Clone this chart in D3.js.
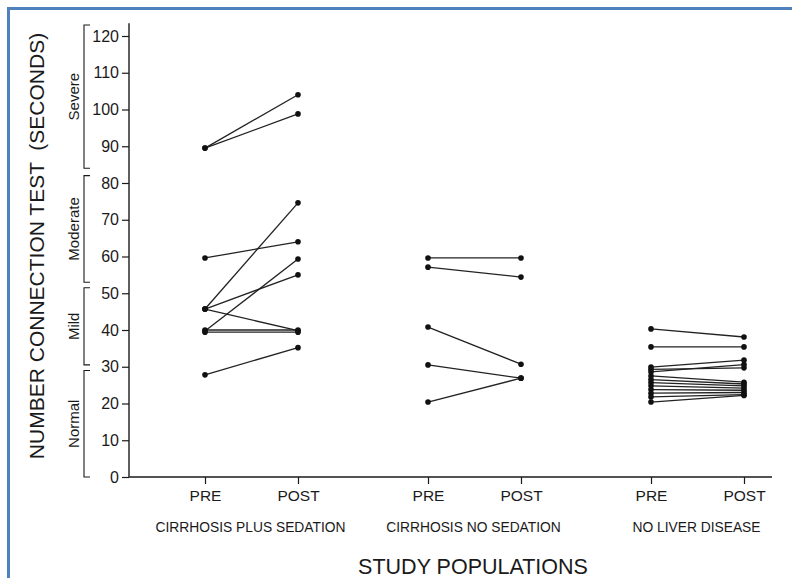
<!DOCTYPE html>
<html>
<head>
<meta charset="utf-8">
<script src="https://cdn.jsdelivr.net/npm/d3@7"></script>
<style>
  html, body { margin: 0; padding: 0; background: #fff; }
  svg { display: block; font-family: "Liberation Sans", Arial, Helvetica, sans-serif; }
</style>
</head>
<body>
<svg id="chart"></svg>
<script>
// Number connection test, pre vs post, three study populations
const groups = ["CIRRHOSIS PLUS SEDATION", "CIRRHOSIS NO SEDATION", "NO LIVER DISEASE"];
const phases = ["PRE", "POST"];
const yTicks = [0, 10, 20, 30, 40, 50, 60, 70, 80, 90, 100, 110, 120];

// [pre, post] seconds per subject
const sedationPairs = [
  [89.5, 104], [89.5, 98.8], [59.6, 64], [45.7, 74.6], [39.7, 59.3],
  [45.7, 55], [45.7, 39.8], [40, 40], [39.4, 39.4], [27.8, 35.2]
];
const noSedationPairs = [
  [59.6, 59.6], [57.1, 54.4], [40.8, 30.7], [30.5, 26.9], [20.4, 26.9]
];
const noLiverPairs = [
  [40.3, 38.1], [35.4, 35.4], [29.9, 31.8], [29.3, 29.7], [28.6, 30.6],
  [27.5, 25.8], [26.5, 25.3], [25.7, 24.8], [24.8, 24.2], [23.8, 23.6],
  [22.8, 23.0], [21.8, 22.4], [20.4, 22.2]
];

// severity brackets along the y axis
const severity = ["Normal", "Mild", "Moderate", "Severe"];
const severityFrom = [0, 30.5, 53, 84];
const severityTo = [29, 51.5, 82, 123];

(() => {
  const width = 792, height = 578;
  const BLUE = "#4f81bd";
  const INK = "#1a1a1a";

  const svg = d3.select("#chart").attr("width", width).attr("height", height);

  // frame (left + top only)
  svg.append("line").attr("x1", 8).attr("x2", width).attr("y1", 8.5).attr("y2", 8.5)
    .attr("stroke", BLUE).attr("stroke-width", 3);
  svg.append("line").attr("x1", 8.5).attr("x2", 8.5).attr("y1", 7).attr("y2", height)
    .attr("stroke", BLUE).attr("stroke-width", 3);

  const y = d3.scaleLinear().domain([0, 120]).range([477, 36]);
  const xGroup = d3.scaleBand().domain(groups).range([140, 809]).padding(0);
  const xPhase = d3.scalePoint().domain(phases).range([0, xGroup.bandwidth()]).padding(0.699);
  const xPos = (g, p) => xGroup(g) + xPhase(p);

  const AXIS_X = 129;

  // y axis
  const yAxis = d3.axisLeft(y).tickValues(yTicks).tickSize(7).tickPadding(3).tickSizeOuter(0);
  svg.append("g")
    .attr("transform", `translate(${AXIS_X},0)`)
    .call(yAxis)
    .call(s => s.select(".domain").remove())
    .call(s => s.selectAll("line").attr("stroke", INK).attr("stroke-width", 1.2))
    .call(s => s.selectAll("text").attr("font-size", 16).attr("fill", INK)
      .attr("font-family", "'Liberation Sans', Arial, sans-serif"));
  svg.append("line")
    .attr("x1", AXIS_X).attr("x2", AXIS_X)
    .attr("y1", y(0)).attr("y2", y(123.5))
    .attr("stroke", INK).attr("stroke-width", 1.4);

  // x axis baseline
  svg.append("line")
    .attr("x1", AXIS_X).attr("x2", 772)
    .attr("y1", y(0)).attr("y2", y(0))
    .attr("stroke", INK).attr("stroke-width", 1.4);

  // PRE / POST ticks per group
  groups.forEach(g => {
    svg.append("g")
      .attr("transform", `translate(${xGroup(g)},${y(0)})`)
      .call(d3.axisBottom(xPhase).tickSize(7).tickPadding(6).tickSizeOuter(0))
      .call(s => s.select(".domain").remove())
      .call(s => s.selectAll("line").attr("stroke", INK).attr("stroke-width", 1.2))
      .call(s => s.selectAll("text").attr("font-size", 15.5).attr("fill", INK)
        .attr("font-family", "'Liberation Sans', Arial, sans-serif"));

    svg.append("text")
      .attr("x", xGroup(g) + xGroup.bandwidth() / 2 - 1)
      .attr("y", 532)
      .attr("text-anchor", "middle")
      .attr("font-size", 13.8)
      .attr("fill", INK)
      .text(g);
  });

  // axis titles
  svg.append("text")
    .attr("x", 473).attr("y", 574)
    .attr("text-anchor", "middle")
    .attr("font-size", 21.5)
    .attr("fill", INK)
    .text("STUDY POPULATIONS");

  svg.append("text")
    .attr("transform", `translate(44,246) rotate(-90)`)
    .attr("text-anchor", "middle")
    .attr("font-size", 21)
    .attr("fill", INK)
    .style("white-space", "pre")
    .text("NUMBER CONNECTION TEST  (SECONDS)");

  // severity brackets
  const BR_X = 84;
  severity.forEach((name, i) => {
    const y0 = y(severityFrom[i]), y1 = y(severityTo[i]);
    svg.append("path")
      .attr("d", `M${BR_X + 6},${y0}H${BR_X}V${y1}H${BR_X + 6}`)
      .attr("fill", "none")
      .attr("stroke", INK)
      .attr("stroke-width", 1.1);
    svg.append("text")
      .attr("transform", `translate(79,${(y0 + y1) / 2}) rotate(-90)`)
      .attr("text-anchor", "middle")
      .attr("font-size", 15)
      .attr("fill", INK)
      .text(name);
  });

  // subject lines + points
  const series = [sedationPairs, noSedationPairs, noLiverPairs];
  series.forEach((pairs, gi) => {
    const g = groups[gi];
    const layer = svg.append("g");
    layer.selectAll("line")
      .data(pairs)
      .join("line")
      .attr("x1", xPos(g, "PRE")).attr("y1", d => y(d[0]))
      .attr("x2", xPos(g, "POST")).attr("y2", d => y(d[1]))
      .attr("stroke", "#222")
      .attr("stroke-width", 1.3);
    const pts = pairs.flatMap(d => [[xPos(g, "PRE"), d[0]], [xPos(g, "POST"), d[1]]]);
    layer.selectAll("circle")
      .data(pts)
      .join("circle")
      .attr("cx", d => d[0])
      .attr("cy", d => y(d[1]))
      .attr("r", 2.8)
      .attr("fill", "#111");
  });
})();
</script>
</body>
</html>
